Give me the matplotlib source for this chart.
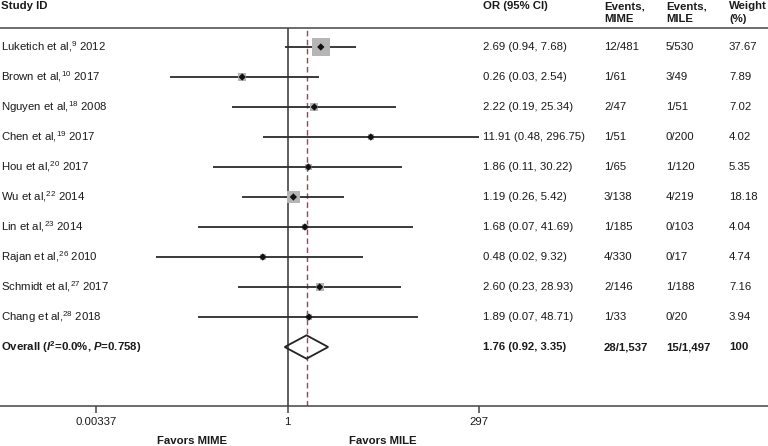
import numpy as np
import matplotlib
matplotlib.use("Agg")
import matplotlib.pyplot as plt
from matplotlib.transforms import blended_transform_factory
from matplotlib.patches import Polygon
from matplotlib.ticker import FixedLocator, FixedFormatter, NullLocator

plt.rcParams['font.family'] = ['Liberation Sans', 'DejaVu Sans']
plt.rcParams['mathtext.fontset'] = 'custom'
plt.rcParams['mathtext.rm'] = 'Liberation Sans'
plt.rcParams['mathtext.it'] = 'Liberation Sans:italic'
plt.rcParams['mathtext.bf'] = 'Liberation Sans:bold'
plt.rcParams['mathtext.bfit'] = 'Liberation Sans:italic:bold'

# ---------------- data ----------------
studies = ["Luketich et al,", "Brown et al,", "Nguyen et al,", "Chen et al,", "Hou et al,",
           "Wu et al,", "Lin et al,", "Rajan et al,", "Schmidt et al,", "Chang et al,"]
refs = ["9", "10", "18", "19", "20", "22", "23", "26", "27", "28"]
years = ["2012", "2017", "2008", "2017", "2017", "2014", "2014", "2010", "2017", "2018"]
or_vals = [2.69, 0.26, 2.22, 11.91, 1.86, 1.19, 1.68, 0.48, 2.60, 1.89]
ci_low = [0.94, 0.03, 0.19, 0.48, 0.11, 0.26, 0.07, 0.02, 0.23, 0.07]
ci_high = [7.68, 2.54, 25.34, 296.75, 30.22, 5.42, 41.69, 9.32, 28.93, 48.71]
events_mime = ["12/481", "1/61", "2/47", "1/51", "1/65", "3/138", "1/185", "4/330", "2/146", "1/33"]
events_mile = ["5/530", "3/49", "1/51", "0/200", "1/120", "4/219", "0/103", "0/17", "1/188", "0/20"]
weights = [37.67, 7.89, 7.02, 4.02, 5.35, 18.18, 4.04, 4.74, 7.16, 3.94]

overall_or = 1.76
overall_low = 0.92
overall_high = 3.35
overall_label = r"Overall ($\mathbfit{I}^{\mathbf{2}}$=0.0%, $\mathbfit{P}$=0.758)"
overall_mime = "28/1,537"
overall_mile = "15/1,497"
overall_weight = "100"

tick_vals = [0.00337, 1, 297]
tick_labels = ["0.00337", "1", "297"]

# ---------------- figure ----------------
W, H = 768, 446
fig = plt.figure(figsize=(W / 100, H / 100), dpi=100)
ax = fig.add_axes([0, (H - 406) / H, 1, (406 - 28) / H])
ax.set_xscale('log')
ppu = 33.64  # pixels per ln unit
x1px = 287.5
ax.set_xlim(np.exp(-x1px / ppu), np.exp((W - x1px) / ppu))
ax.set_ylim((406 - 47) / 30, (28 - 47) / 30)

txtc = '#1a1a1a'
linec = '#2b2b2b'
fs = 8.2

for s in ['left', 'right']:
    ax.spines[s].set_visible(False)
for s in ['top', 'bottom']:
    ax.spines[s].set_color('#444444')
    ax.spines[s].set_linewidth(1.1)
ax.yaxis.set_visible(False)
ax.xaxis.set_major_locator(FixedLocator(tick_vals))
ax.xaxis.set_major_formatter(FixedFormatter(tick_labels))
ax.xaxis.set_minor_locator(NullLocator())
ax.tick_params(axis='x', direction='out', length=5, width=1.1, color='#444444',
               labelsize=fs, labelcolor=txtc, pad=3)

# reference lines
ax.axvline(1, color='#333333', lw=1.1, zorder=1)
ax.axvline(overall_or, color='#a8404f', lw=1.0, ls=(0, (4, 2.5)), zorder=1)

n = len(studies)
rows = np.arange(n)
# CI lines
ax.hlines(rows, ci_low, ci_high, color=linec, lw=1.3, zorder=2)
# weight squares
side_px = 18.3 * np.sqrt(np.array(weights) / max(weights))
side_pt = side_px * 72 / 100
ax.scatter(or_vals, rows, s=side_pt ** 2, marker='s', color='#b5b5b5',
           edgecolors='none', zorder=3)
ax.scatter(or_vals, rows, s=14, marker='D', color='#111111', edgecolors='none', zorder=4)

# overall diamond
oy = n
h = 0.39
diamond = Polygon([[overall_low, oy], [overall_or, oy - h], [overall_high, oy],
                   [overall_or, oy + h]], closed=True, fill=False,
                  edgecolor='#222222', lw=1.3, zorder=4)
ax.add_patch(diamond)

# text columns
tr = blended_transform_factory(ax.transAxes, ax.transData)
col_study = 1 / W
col_or = 483 / W
col_mime = 604 / W
col_mile = 666 / W
col_w = 729 / W

for i in range(n):
    ax.text(col_study, i, f"{studies[i]}$^{{{refs[i]}}}$ {years[i]}", transform=tr,
            va='center', ha='left', fontsize=fs, color=txtc, clip_on=False)
    ax.text(col_or, i, f"{or_vals[i]:.2f} ({ci_low[i]:.2f}, {ci_high[i]:.2f})", transform=tr,
            va='center', ha='left', fontsize=fs, color=txtc, clip_on=False)
    ax.text(col_mime, i, events_mime[i], transform=tr, va='center', ha='left',
            fontsize=fs, color=txtc, clip_on=False)
    ax.text(col_mile, i, events_mile[i], transform=tr, va='center', ha='left',
            fontsize=fs, color=txtc, clip_on=False)
    ax.text(col_w, i, f"{weights[i]:.2f}", transform=tr, va='center', ha='left',
            fontsize=fs, color=txtc, clip_on=False)

ax.text(col_study, oy, overall_label, transform=tr, va='center', ha='left',
        fontsize=fs, fontweight='bold', color=txtc, clip_on=False)
ax.text(col_or, oy, f"{overall_or:.2f} ({overall_low:.2f}, {overall_high:.2f})", transform=tr,
        va='center', ha='left', fontsize=fs, fontweight='bold', color=txtc, clip_on=False)
ax.text(col_mime, oy, overall_mime, transform=tr, va='center', ha='left',
        fontsize=fs, fontweight='bold', color=txtc, clip_on=False)
ax.text(col_mile, oy, overall_mile, transform=tr, va='center', ha='left',
        fontsize=fs, fontweight='bold', color=txtc, clip_on=False)
ax.text(col_w, oy, overall_weight, transform=tr, va='center', ha='left',
        fontsize=fs, fontweight='bold', color=txtc, clip_on=False)

# headers
y1 = (6 - 47) / 30
y2 = (19 - 47) / 30
hkw = dict(transform=tr, va='center', ha='left', fontsize=fs, fontweight='bold',
           color=txtc, clip_on=False)
ax.text(col_study, y1, "Study ID", **hkw)
ax.text(col_or, y1, "OR (95% CI)", **hkw)
ax.text(col_mime, y1, "Events,", **hkw)
ax.text(col_mime, y2, "MIME", **hkw)
ax.text(col_mile, y1, "Events,", **hkw)
ax.text(col_mile, y2, "MILE", **hkw)
ax.text(col_w, y1, "Weight", **hkw)
ax.text(col_w, y2, "(%)", **hkw)

# favors labels
fig.text(192 / W, 1 - 441 / H, "Favors MIME", ha='center', va='center', fontsize=fs,
         fontweight='bold', color=txtc)
fig.text(383 / W, 1 - 441 / H, "Favors MILE", ha='center', va='center', fontsize=fs,
         fontweight='bold', color=txtc)

fig.savefig("out.png", dpi=100)
